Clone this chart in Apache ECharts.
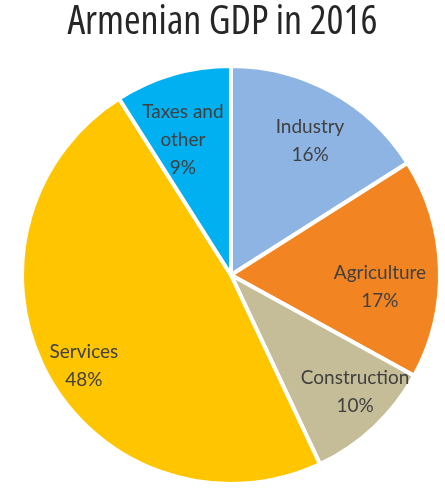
<!DOCTYPE html>
<html>
<head>
<meta charset="utf-8">
<script src="https://cdn.jsdelivr.net/npm/echarts@6/dist/echarts.min.js"></script>
<style>
  html, body { margin: 0; padding: 0; background: #fff; }
  #chart { width: 445px; height: 488px; }
</style>
</head>
<body>
<div id="chart"></div>
<script>
// Sector shares of Armenian GDP, 2016 (percent)
const sectors = ['Industry', 'Agriculture', 'Construction', 'Services', 'Taxes and\nother'];
const shares = [16, 17, 10, 48, 9];
const colors = ['#8EB4E3', '#F28522', '#C4BD97', '#FFC600', '#00B0F0'];

// label placement: distance from centre (fraction of radius) and a small
// angular nudge (degrees) away from each slice's middle angle
const labelReach = [0.745, 0.715, 0.816, 0.827, 0.686];
const labelTurn = [1.7, 6.4, -3.5, -2.9, -3.4];

const cx = 231, cy = 275, R = 209;

const total = shares.reduce((a, b) => a + b, 0);
const midAngles = [];
shares.reduce((acc, v) => { midAngles.push((acc + v / 2) / total * 360); return acc + v; }, 0);

const chart = echarts.init(document.getElementById('chart'), null, { renderer: 'canvas' });

chart.setOption({
  animation: false,
  title: {
    text: 'Armenian GDP in 2016',
    left: 'center',
    top: 3,
    padding: [0, 0, 0, 9],
    textStyle: {
      fontFamily: '"Open Sans", sans-serif',
      fontStyle: 'normal',
      fontWeight: 'condensed',
      fontSize: 40,
      color: '#262626'
    }
  },
  series: [{
    type: 'pie',
    center: [cx, cy],
    radius: [0, R],
    startAngle: 90,
    clockwise: true,
    itemStyle: { borderColor: '#ffffff', borderWidth: 4 },
    label: {
      position: 'inside',
      formatter: p => p.name + '\n' + p.value + '%',
      fontFamily: 'Lato, "Open Sans", sans-serif',
      fontSize: 19,
      lineHeight: 28,
      color: '#404040'
    },
    labelLayout: function (p) {
      const i = p.dataIndex;
      const r = p.labelRect;
      const a = (midAngles[i] + labelTurn[i]) * Math.PI / 180;
      const tx = cx + Math.sin(a) * labelReach[i] * R;
      const ty = cy - Math.cos(a) * labelReach[i] * R;
      return { dx: tx - (r.x + r.width / 2), dy: ty - (r.y + r.height / 2) };
    },
    labelLine: { show: false },
    emphasis: { disabled: true },
    data: sectors.map((name, i) => ({
      name: name,
      value: shares[i],
      itemStyle: { color: colors[i] }
    }))
  }]
});
</script>
</body>
</html>
